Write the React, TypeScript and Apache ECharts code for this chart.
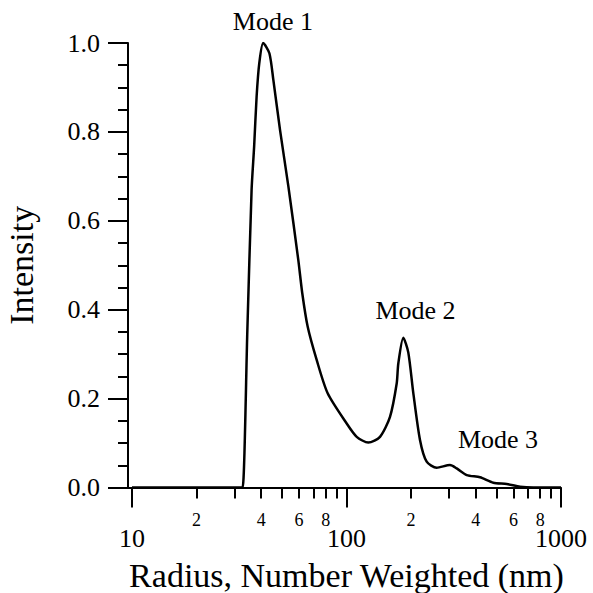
import React, { useEffect, useRef } from 'react';
import * as echarts from 'echarts';

// Radius (nm) and normalized intensity
const radius = [
  10, 32.0, 32.8, 34.5, 36.1, 37.1, 38.1, 39.2, 40.9, 43.7,
  45.6, 49.0, 53.6, 59.6, 62.2, 65.9, 72.6, 81.7, 100.2, 111.6,
  126.4, 143.3, 159.5, 171.4, 174.4, 184.0, 194.1, 204.8, 220.1, 236.5,
  263.3, 303.7, 326.5, 363.5, 419.3, 483.6, 558.4, 644.2, 742.8, 1000,
];
const intensity = [
  0, 0, 0, 0.354, 0.669, 0.767, 0.879, 0.954, 1.0, 0.977,
  0.917, 0.804, 0.677, 0.512, 0.437, 0.362, 0.287, 0.212, 0.144, 0.114,
  0.101, 0.114, 0.159, 0.234, 0.279, 0.337, 0.304, 0.213, 0.107, 0.058,
  0.0445, 0.0506, 0.043, 0.028, 0.023, 0.0108, 0.0079, 0.0018, 0, 0,
];

const xMajorTicks = [10, 100, 1000];
const xMinorTicks = [20, 30, 40, 50, 60, 70, 80, 90, 200, 300, 400, 500, 600, 700, 800, 900];
const xMinorLabels = [20, 40, 60, 80, 200, 400, 600, 800];

const xTitle = 'Radius, Number Weighted (nm)';
const yTitle = 'Intensity';

const modeLabels = ['Mode 1', 'Mode 2', 'Mode 3'];
const modeRadius = [45.4, 209.8, 508.5];
const modeIntensity = [1.048, 0.399, 0.109];

const FONT = 'Liberation Serif';

const serif = (size: number) => ({ fontFamily: FONT, fontSize: size, color: '#000' });

export default function App() {
  const ref = useRef<HTMLDivElement>(null);

  useEffect(() => {
    if (!ref.current) return;
    const chart = echarts.init(ref.current, null, { renderer: 'svg' });
    const data = radius.map((r, i) => [r, intensity[i]]);
    const black = '#000';

    const option: any = {
      animation: false,
      backgroundColor: '#fff',
      textStyle: { fontFamily: FONT, color: black },
      grid: { left: 128, right: 32, top: 43, bottom: 105.5, outerBoundsMode: 'none', containLabel: false },
      xAxis: [
        {
          type: 'log',
          logBase: 10,
          min: 9.58,
          max: 1000,
          position: 'bottom',
          offset: 1,
          axisLine: { show: true, lineStyle: { color: black, width: 2 } },
          axisTick: {
            show: true,
            customValues: xMajorTicks,
            length: 20,
            inside: false,
            lineStyle: { color: black, width: 2 },
          },
          axisLabel: {
            show: true,
            customValues: xMajorTicks,
            margin: 37,
            ...serif(26),
            formatter: (v: number) => String(Math.round(v)),
          },
          splitLine: { show: false },
          minorTick: { show: false },
        },
        {
          type: 'log',
          logBase: 10,
          min: 9.58,
          max: 1000,
          position: 'bottom',
          offset: 1,
          axisLine: { show: false },
          axisTick: {
            show: true,
            customValues: xMinorTicks,
            length: 10,
            inside: false,
            lineStyle: { color: black, width: 2 },
          },
          axisLabel: {
            show: true,
            customValues: xMinorLabels,
            margin: 22,
            ...serif(18),
            formatter: (v: number) =>
              String(Math.round(v / Math.pow(10, Math.floor(Math.log10(v) + 1e-9)))),
          },
          splitLine: { show: false },
          minorTick: { show: false },
        },
      ],
      yAxis: {
        type: 'value',
        min: 0,
        max: 1,
        interval: 0.2,
        axisLine: { show: true, lineStyle: { color: black, width: 2 } },
        axisTick: { show: true, length: 20, inside: false, lineStyle: { color: black, width: 2 } },
        minorTick: { show: true, splitNumber: 4, length: 10, lineStyle: { color: black, width: 2 } },
        axisLabel: {
          margin: 28,
          ...serif(26),
          formatter: (v: number) => v.toFixed(1),
        },
        splitLine: { show: false },
        minorSplitLine: { show: false },
      },
      series: [
        {
          type: 'line',
          xAxisIndex: 0,
          yAxisIndex: 0,
          data,
          symbol: 'none',
          showSymbol: false,
          smooth: 0.25,
          lineStyle: { color: black, width: 2.5 },
        },
      ],
    };
    chart.setOption(option);

    const graphics: any[] = modeLabels.map((t, i) => {
      const p = chart.convertToPixel({ seriesIndex: 0 }, [modeRadius[i], modeIntensity[i]]) as number[];
      return {
        type: 'text',
        x: p[0],
        y: p[1],
        style: {
          text: t,
          fill: black,
          fontFamily: FONT,
          fontSize: 26,
          align: 'center',
          verticalAlign: 'middle',
        },
      };
    });

    // Axis titles: rendered at 26px and scaled up to ~34px
    const titleScale = 34 / 26;
    const xMid = chart.convertToPixel({ seriesIndex: 0 }, [100, 0]) as number[];
    const yMid = chart.convertToPixel({ seriesIndex: 0 }, [10, 0.5]) as number[];
    graphics.push({
      type: 'text',
      x: xMid[0],
      y: 575,
      scaleX: titleScale,
      scaleY: titleScale,
      style: {
        text: xTitle,
        fill: black,
        fontFamily: FONT,
        fontSize: 26,
        align: 'center',
        verticalAlign: 'middle',
      },
    });
    graphics.push({
      type: 'text',
      x: 21,
      y: yMid[1],
      rotation: Math.PI / 2,
      scaleX: titleScale,
      scaleY: titleScale,
      style: {
        text: yTitle,
        fill: black,
        fontFamily: FONT,
        fontSize: 26,
        align: 'center',
        verticalAlign: 'middle',
      },
    });
    chart.setOption({ graphic: graphics });

    return () => chart.dispose();
  }, []);

  return (
    <div
      ref={ref}
      style={{ position: 'absolute', left: 0, top: 0, width: 593, height: 593, background: '#fff' }}
    />
  );
}
